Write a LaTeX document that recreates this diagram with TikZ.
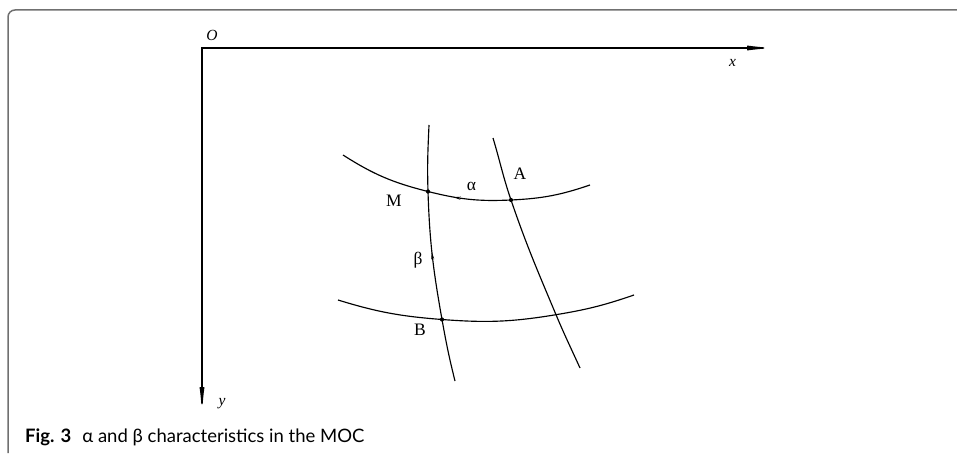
\documentclass[tikz,border=0pt]{standalone}
\usepackage{fontspec}
\setmainfont{Liberation Serif}
\newfontfamily\capfont{Lato}
\usetikzlibrary{arrows.meta,decorations.markings}
\definecolor{framecol}{RGB}{112,112,112}
\begin{document}
\begin{tikzpicture}[x=1pt,y=1pt,
  axis/.style={line width=1.3pt, line join=miter},
  curve/.style={line width=1.15pt},
  pt/.style={circle, fill, inner sep=0pt, minimum size=4.2pt},
  lbl/.style={inner sep=0pt, font=\fontsize{17.5}{17.5}\selectfont},
  ilbl/.style={inner sep=0pt, font=\fontsize{15.5}{15.5}\selectfont\itshape},
  midarrow/.style={postaction={decorate}, decoration={markings,
     mark=at position #1 with {\arrow{Stealth[length=7pt,width=3pt,reversed]}}}},
]
\useasboundingbox (0,0) rectangle (957,453);
% frame
\draw[framecol, line width=1.5pt, rounded corners=7pt] (8,0) -- (8,443) -- (957,443);
% axes
\coordinate (O) at (202,405);
\coordinate (XE) at (775,405);
\coordinate (YE) at (202,38);
\draw[axis, {Latex[length=28pt,width=5pt]}-{Latex[length=28pt,width=5pt]}] (XE) -- (O) -- (YE);
\node[ilbl] (lO) at (212,418) {O};
\node[ilbl] (lx) at (732.5,390.5) {x};
\node[ilbl] (ly) at (222,49) {y};
% points
\coordinate (U1) at (343,298);
\coordinate (M) at (428,261.5);
\coordinate (A) at (511,253);
\coordinate (U2) at (590,268);
\coordinate (L1) at (338,153);
\coordinate (B) at (442,133.5);
\coordinate (C) at (556,138.3);
\coordinate (L2) at (634,158);
\coordinate (T1) at (429,328);
\coordinate (E1) at (455,72);
\coordinate (R1) at (493,315);
\coordinate (R2) at (580,85);
% alpha curves
\draw[curve, midarrow=0.49] (U1) to[out=-32.6,in=165.9] (M) to[out=-14.1,in=182.7] (A) to[out=2.7,in=198.8] (U2);
\draw[curve] (L1) to[out=-17.1,in=175.6] (B) to[out=-4.4,in=189.4] (C) to[out=9.4,in=199] (L2);
% beta curves
\draw[curve, midarrow=0.52] (T1) to[out=-92.6,in=91.8] (M) to[out=-88.2,in=100.1] (B) to[out=-79.9,in=104] (E1);
\draw[curve] (R1) to[out=-73.3,in=108.9] (A) to[out=-71.1,in=112.8] (C) to[out=-67.2,in=114.5] (R2);
% dots
\node[pt] (Mdot) at (M) {};
\node[pt] (Adot) at (A) {};
\node[pt] (Bdot) at (B) {};
% labels
\node[lbl] (lM) at (394,252.5) {M};
\node[lbl] (lA) at (520,279.5) {A};
\node[lbl] (lalpha) at (471.5,267) {α};
\node[lbl] (lbeta) at (418,193) {β};
\node[lbl] (lB) at (420,123.5) {B};
% caption
\node[anchor=base west, inner sep=0pt] (cap) at (25,10.3) {\capfont\fontsize{18.5}{18.5}\selectfont\textbf{Fig. 3}\hspace{0.6em}α and β characteristics in the MOC};
\end{tikzpicture}
\end{document}
